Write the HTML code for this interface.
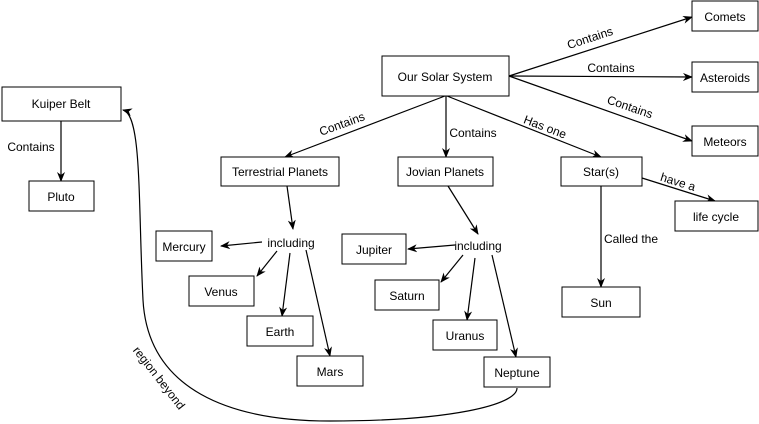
<!DOCTYPE html>
<html><head><meta charset="utf-8"><style>
body{margin:0;background:#fff;}
svg{display:block;font-family:"Liberation Sans",Arial,sans-serif;font-size:12px;}
rect{fill:#fff;stroke:#000;stroke-width:1;}
.e line,.e path{stroke:#000;stroke-width:1.2;fill:none;}
</style></head><body>
<svg width="759" height="424" viewBox="0 0 759 424">
<defs><marker id="a" markerWidth="10" markerHeight="8" refX="9" refY="4" orient="auto" markerUnits="userSpaceOnUse"><path d="M0,0 L10,4 L0,8 L3,4 Z" style="fill:#000;stroke:none"/></marker></defs>
<g class="e" marker-end="url(#a)">
<line x1="445" y1="96" x2="285" y2="157"/>
<line x1="446" y1="96" x2="446" y2="157"/>
<line x1="447" y1="96" x2="601" y2="157"/>
<line x1="509" y1="76" x2="692" y2="17"/>
<line x1="509" y1="76" x2="692" y2="77"/>
<line x1="509" y1="76" x2="692" y2="141"/>
<line x1="642" y1="178" x2="715" y2="201"/>
<line x1="601" y1="186" x2="601" y2="287"/>
<line x1="287" y1="186" x2="293" y2="229"/>
<line x1="262" y1="242" x2="221" y2="246"/>
<line x1="277" y1="251" x2="257" y2="276"/>
<line x1="290" y1="253" x2="282" y2="316"/>
<line x1="306" y1="250" x2="330" y2="356"/>
<line x1="448" y1="186" x2="478" y2="234"/>
<line x1="455" y1="245" x2="408" y2="249"/>
<line x1="463" y1="255" x2="441" y2="282"/>
<line x1="475" y1="258" x2="467" y2="320"/>
<line x1="492" y1="255" x2="516" y2="357"/>
<line x1="61" y1="121" x2="61" y2="181"/>
<path d="M517,388 C517,405 450,421 330,421 C230,421 148,390 143,300 C138,200 142,115 123,110"/>
</g>
<rect x="382" y="56" width="127" height="40"/><text x="445" y="81" text-anchor="middle">Our Solar System</text>
<rect x="692" y="1" width="66" height="30"/><text x="725" y="21" text-anchor="middle">Comets</text>
<rect x="692" y="62" width="66" height="30"/><text x="725" y="82" text-anchor="middle">Asteroids</text>
<rect x="692" y="126" width="66" height="30"/><text x="725" y="146" text-anchor="middle">Meteors</text>
<rect x="2" y="87" width="119" height="34"/><text x="61" y="108" text-anchor="middle">Kuiper Belt</text>
<rect x="29" y="181" width="65" height="30"/><text x="61" y="201" text-anchor="middle">Pluto</text>
<rect x="221" y="157" width="118" height="29"/><text x="280" y="176" text-anchor="middle">Terrestrial Planets</text>
<rect x="398" y="157" width="95" height="29"/><text x="445" y="176" text-anchor="middle">Jovian Planets</text>
<rect x="561" y="157" width="81" height="29"/><text x="601" y="176" text-anchor="middle">Star(s)</text>
<rect x="675" y="201" width="83" height="30"/><text x="716" y="221" text-anchor="middle">life cycle</text>
<rect x="562" y="287" width="78" height="30"/><text x="601" y="307" text-anchor="middle">Sun</text>
<rect x="156" y="231" width="56" height="30"/><text x="184" y="251" text-anchor="middle">Mercury</text>
<rect x="189" y="276" width="65" height="30"/><text x="221" y="296" text-anchor="middle">Venus</text>
<rect x="247" y="316" width="66" height="30"/><text x="280" y="336" text-anchor="middle">Earth</text>
<rect x="297" y="356" width="66" height="30"/><text x="330" y="376" text-anchor="middle">Mars</text>
<rect x="342" y="234" width="64" height="30"/><text x="374" y="254" text-anchor="middle">Jupiter</text>
<rect x="375" y="280" width="64" height="30"/><text x="407" y="300" text-anchor="middle">Saturn</text>
<rect x="433" y="320" width="64" height="30"/><text x="465" y="340" text-anchor="middle">Uranus</text>
<rect x="484" y="357" width="66" height="30"/><text x="517" y="377" text-anchor="middle">Neptune</text>
<text x="291" y="247" text-anchor="middle">including</text>
<text x="478" y="250" text-anchor="middle">including</text>
<text x="342" y="128" text-anchor="middle" transform="rotate(-20 342 124)">Contains</text>
<text x="473" y="137" text-anchor="middle">Contains</text>
<text x="545" y="131" text-anchor="middle" transform="rotate(21 545 127)">Has one</text>
<text x="590" y="42" text-anchor="middle" transform="rotate(-18 590 38)">Contains</text>
<text x="611" y="72" text-anchor="middle">Contains</text>
<text x="630" y="111" text-anchor="middle" transform="rotate(19 630 107)">Contains</text>
<text x="678" y="186" text-anchor="middle" transform="rotate(17 678 182)">have a</text>
<text x="631" y="243" text-anchor="middle">Called the</text>
<text x="31" y="151" text-anchor="middle">Contains</text>
<text x="159" y="382" text-anchor="middle" transform="rotate(52 159 378)">region beyond</text>
</svg>
</body></html>
